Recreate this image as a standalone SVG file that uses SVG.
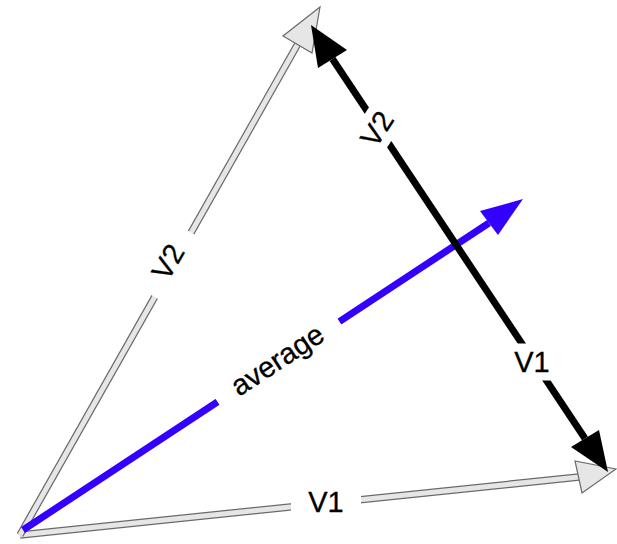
<svg xmlns="http://www.w3.org/2000/svg" width="617" height="544" viewBox="0 0 617 544">
<style>
.gout{stroke:#6a6a6a;stroke-width:7.5;fill:none}
.gin{stroke:#e6e6e6;stroke-width:5;fill:none}
.ghead{fill:#e6e6e6;stroke:#6a6a6a;stroke-width:1.2;stroke-linejoin:miter}
.blue{stroke:#3300ff;stroke-width:7;fill:none}
.bhead{fill:#3300ff}
.black{stroke:#000;stroke-width:7;fill:none}
.khead{fill:#000}
.bg{fill:#fff}
.lbl{font-family:"Liberation Sans",Arial,sans-serif;font-size:29px;fill:#000;stroke:#000;stroke-width:0.3;text-anchor:middle}
</style>
<rect width="617" height="544" fill="#fff"/>
<g id="connectors">
  <g id="v1-gray">
    <line class="gout" x1="20" y1="535" x2="579" y2="477"/>
    <line class="gin" x1="20" y1="535" x2="579" y2="477"/>
    <polygon class="ghead" points="616,469 575,461 582,493"/>
    <g transform="translate(326,502)">
      <rect class="bg" x="-35" y="-18.5" width="70" height="37"/>
      <text class="lbl" x="0" y="10">V1</text>
    </g>
  </g>
  <g id="v2-gray">
    <line class="gout" x1="20" y1="535" x2="297.5" y2="44.5"/>
    <line class="gin" x1="20" y1="535" x2="297.5" y2="44.5"/>
    <polygon class="ghead" points="320,7 283,36 312,53"/>
    <g transform="translate(168,262) rotate(-60)">
      <rect class="bg" x="-37" y="-18.5" width="74" height="37"/>
      <text class="lbl" x="0" y="10">V2</text>
    </g>
  </g>
  <g id="average">
    <line class="blue" x1="23" y1="530" x2="489" y2="223"/>
    <polygon class="bhead" points="523,199 480,211 498,235"/>
    <g transform="translate(280,364) rotate(-33.5)">
      <rect class="bg" x="-73" y="-18.5" width="146" height="37"/>
      <text class="lbl" x="0" y="5">average</text>
    </g>
  </g>
  <g id="v1v2-black">
    <line class="black" x1="332.5" y1="59" x2="585" y2="438.5"/>
    <polygon class="khead" points="311,25 347,50 318,68"/>
    <polygon class="khead" points="608,472 571,447 599,430"/>
    <g transform="translate(377,129) rotate(-57)">
      <rect class="bg" x="-35" y="-18.5" width="70" height="37"/>
      <text class="lbl" x="0" y="10">V2</text>
    </g>
    <g transform="translate(532,362)">
      <rect class="bg" x="-35" y="-18.5" width="70" height="37"/>
      <text class="lbl" x="0" y="10">V1</text>
    </g>
  </g>
</g>
</svg>
